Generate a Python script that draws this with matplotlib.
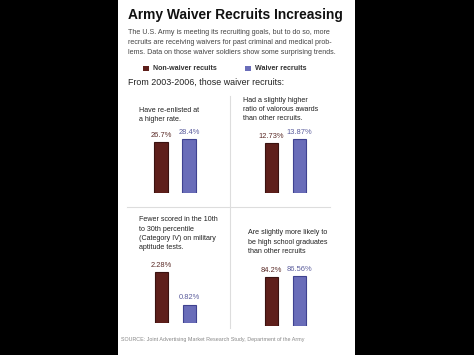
import matplotlib
matplotlib.use("Agg")
import matplotlib.pyplot as plt
from matplotlib.patches import Rectangle
from matplotlib.lines import Line2D

# ---------- DATA ----------
groups = ["Non-waiver recuits", "Waiver recruits"]
reenlisted = [26.7, 28.4]
reenlisted_labels = ["26.7%", "28.4%"]
valorous = [12.73, 13.87]
valorous_labels = ["12.73%", "13.87%"]
category_iv = [2.28, 0.82]
category_iv_labels = ["2.28%", "0.82%"]
graduates = [84.2, 86.56]
graduates_labels = ["84.2%", "86.56%"]

W, H = 474, 355
MAROON = "#5e1f1b"
MAROON_EDGE = "#3a1210"
BLUE = "#6a6db9"
BLUE_EDGE = "#3f4290"
FONT = "Liberation Sans"

fig = plt.figure(figsize=(W / 100, H / 100), dpi=100, facecolor="black")


def fx(x):
    return x / W


def fy(y):
    return 1 - y / H


def text(x, y, s, size, **kw):
    kw.setdefault("family", FONT)
    kw.setdefault("color", "#222222")
    fig.text(fx(x), fy(y), s, fontsize=size, va="center", ha=kw.pop("ha", "left"), **kw)


# white page
fig.patches.append(Rectangle((fx(118), 0), fx(355) - fx(118), 1,
                             transform=fig.transFigure, facecolor="white", edgecolor="none", zorder=-5))

# ---------- HEADER ----------
text(128, 15, "Army Waiver Recruits Increasing", 9.9, weight="bold", color="#111111")
intro = ["The U.S. Army is meeting its recruiting goals, but to do so, more",
         "recruits are receiving waivers for past criminal and medical prob-",
         "lems. Data on those waiver soldiers show some surprising trends."]
for i, line in enumerate(intro):
    text(128, 33 + i * 9.6, line, 5.15, color="#444444")

# legend
fig.patches.append(Rectangle((fx(143), fy(71)), fx(5.5), 5.5 / H, transform=fig.transFigure,
                             facecolor=MAROON, edgecolor="none"))
text(153, 68, groups[0], 5.1, weight="bold", color="#333333")
fig.patches.append(Rectangle((fx(245), fy(71)), fx(5.5), 5.5 / H, transform=fig.transFigure,
                             facecolor=BLUE, edgecolor="none"))
text(255, 68, groups[1], 5.1, weight="bold", color="#333333")

text(128, 82, "From 2003-2006, those waiver recruits:", 6.4, color="#222222")

# dividers
fig.lines.append(Line2D([fx(230), fx(230)], [fy(96), fy(328)], transform=fig.transFigure,
                        color="#dddddd", lw=0.8))
fig.lines.append(Line2D([fx(127), fx(330)], [fy(207), fy(207)], transform=fig.transFigure,
                        color="#dddddd", lw=0.8))

# ---------- PANELS ----------
panels = [
    (reenlisted, reenlisted_labels, 147, 193, 54,
     ["Have re-enlisted at", "a higher rate."], 139, 110),
    (valorous, valorous_labels, 257.5, 193, 54,
     ["Had a slightly higher", "ratio of valorous awards", "than other recruits."], 243, 100),
    (category_iv, category_iv_labels, 147.5, 323, 51,
     ["Fewer scored in the 10th", "to 30th percentile", "(Category IV) on military",
      "aptitude tests."], 139, 220),
    (graduates, graduates_labels, 257.5, 326, 50,
     ["Are slightly more likely to", "be high school graduates", "than other recruits"], 248, 233),
]

for vals, labels, left, base, maxpx, caption, cx, cy in panels:
    for i, line in enumerate(caption):
        text(cx, cy + i * 9.3, line, 5.1, color="#222222")
    ax_h = 70
    ax = fig.add_axes([fx(left), fy(base), 56 / W, ax_h / H])
    ax.set_xlim(0, 2)
    ax.set_ylim(0, max(vals) * ax_h / maxpx)
    ax.bar([0.5, 1.5], vals, width=0.47, color=[MAROON, BLUE],
           edgecolor=[MAROON_EDGE, BLUE_EDGE], linewidth=0.8)
    for xi, v, lab, c in zip([0.5, 1.5], vals, labels, ["#5a2a26", "#5a5c9c"]):
        ax.annotate(lab, (xi, v), xytext=(0, 2.5), textcoords="offset points",
                    ha="center", va="bottom", fontsize=5.4, family=FONT, color=c)
    ax.axis("off")

text(121, 340, "SOURCE: Joint Advertising Market Research Study, Department of the Army",
     3.9, color="#888888")

fig.savefig("out.png", dpi=100, facecolor="black")
